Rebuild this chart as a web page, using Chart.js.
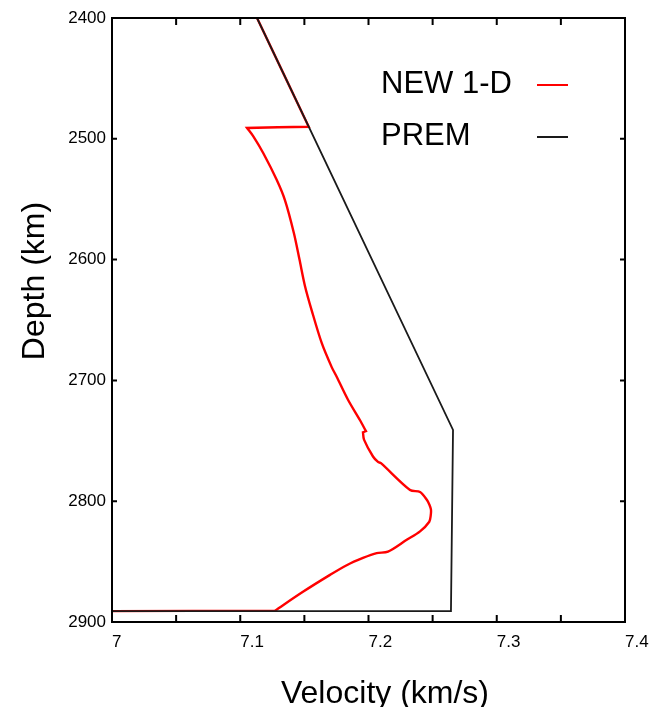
<!DOCTYPE html>
<html lang="en">
<head>
  <meta charset="UTF-8">
  <title>Velocity vs Depth</title>
  <script src="https://cdn.jsdelivr.net/npm/chart.js"></script>
  <style>
    body {
      margin: 0;
      background: #ffffff;
    }
    .chart-box {
      width: 662px;
      height: 707px;
      position: relative;
    }
  </style>
</head>
<body>
  <div class="chart-box">
    <canvas id="velocityChart"></canvas>
  </div>
  <script>
    // NEW 1-D model (velocity in km/s, depth in km)
    // corner points are listed twice so the smoothed line keeps a sharp bend there
    const newVel = [7.1131, 7.1534, 7.1534, 7.1053, 7.1053, 7.1102, 7.118, 7.1284, 7.1349, 7.1418, 7.1462, 7.1505,
      7.1557, 7.1635, 7.1713, 7.1752, 7.184, 7.1934, 7.198, 7.198, 7.1957, 7.1957, 7.1965, 7.2035, 7.2074, 7.2097,
      7.2324, 7.2402, 7.2456, 7.2475, 7.2487, 7.2485, 7.2474, 7.2402, 7.2298, 7.2152, 7.2064, 7.1957,
      7.183, 7.17, 7.1489, 7.1271, 7.1271, 7.0];
    const newDepth = [2400, 2490, 2490, 2491, 2491, 2498, 2512, 2534, 2551, 2578, 2600, 2622,
      2642, 2669, 2689, 2697, 2716, 2733, 2742, 2742, 2743, 2743, 2749, 2763, 2767.5, 2768.5,
      2790.7, 2792.4, 2799, 2803, 2807, 2812, 2817, 2825, 2832, 2841.8, 2843, 2847,
      2853, 2861, 2875, 2890.6, 2890.6, 2891];

    // PREM
    const premVel = [7.1131, 7.2659, 7.2643, 7.0];
    const premDepth = [2400, 2741, 2891, 2891];

    // ticks
    const xTicks = [7, 7.1, 7.2, 7.3, 7.4];
    const xMinorTicks = [7, 7.05, 7.1, 7.15, 7.2, 7.25, 7.3, 7.35, 7.4];
    const yTicks = [2400, 2500, 2600, 2700, 2800, 2900];

    const FONT = "'Liberation Sans', Arial, Helvetica, sans-serif";

    const toPoints = (xs, ys) => xs.map((x, i) => ({ x: x, y: ys[i] }));

    // frame, inward ticks, axis titles and legend
    const framePlugin = {
      id: 'frame',
      afterDraw(chart) {
        const ctx = chart.ctx;
        const a = chart.chartArea;
        const xs = chart.scales.x;
        const ys = chart.scales.y;
        ctx.save();
        ctx.strokeStyle = '#000';
        ctx.lineWidth = 2;
        ctx.strokeRect(a.left, a.top, a.right - a.left, a.bottom - a.top);

        ctx.beginPath();
        xMinorTicks.forEach(v => {
          const px = xs.getPixelForValue(v);
          ctx.moveTo(px, a.bottom); ctx.lineTo(px, a.bottom - 7);
          ctx.moveTo(px, a.top); ctx.lineTo(px, a.top + 7);
        });
        yTicks.forEach(v => {
          const py = ys.getPixelForValue(v);
          ctx.moveTo(a.left, py); ctx.lineTo(a.left + 5, py);
          ctx.moveTo(a.right, py); ctx.lineTo(a.right - 5, py);
        });
        ctx.stroke();

        // axis titles
        ctx.fillStyle = '#000';
        ctx.font = '32px ' + FONT;
        ctx.textAlign = 'center';
        ctx.textBaseline = 'alphabetic';
        ctx.fillText('Velocity (km/s)', 385, 703);
        ctx.save();
        ctx.translate(44, 281);
        ctx.rotate(-Math.PI / 2);
        ctx.fillText('Depth (km)', 0, 0);
        ctx.restore();

        // legend: text first, line sample after
        ctx.font = '31px ' + FONT;
        ctx.textAlign = 'left';
        chart.data.datasets.forEach((ds, i) => {
          const base = 93 + i * 52;
          ctx.fillStyle = '#000';
          ctx.fillText(ds.label, 381, base);
          ctx.beginPath();
          ctx.strokeStyle = ds.borderColor;
          ctx.lineWidth = 2;
          ctx.moveTo(537, base - 8);
          ctx.lineTo(568, base - 8);
          ctx.stroke();
        });
        ctx.restore();
      }
    };

    new Chart(document.getElementById('velocityChart'), {
      type: 'scatter',
      data: {
        datasets: [{
          label: 'NEW 1-D',
          data: toPoints(newVel, newDepth),
          showLine: true,
          borderColor: '#ff0000',
          borderWidth: 2.4,
          pointRadius: 0,
          tension: 0.3,
          order: 1
        }, {
          label: 'PREM',
          data: toPoints(premVel, premDepth),
          showLine: true,
          borderColor: '#1a1a1a',
          borderWidth: 1.8,
          pointRadius: 0,
          tension: 0,
          order: 0
        }]
      },
      options: {
        responsive: true,
        maintainAspectRatio: false,
        animation: false,
        layout: {
          padding: { left: 0, right: 37, top: 18, bottom: 0 }
        },
        plugins: {
          legend: { display: false },
          tooltip: { enabled: false }
        },
        scales: {
          x: {
            type: 'linear',
            min: 7,
            max: 7.4,
            grid: { display: false, drawTicks: false },
            border: { display: false },
            afterBuildTicks: s => { s.ticks = xTicks.map(v => ({ value: v })); },
            afterFit: s => { s.height = 85; },
            ticks: {
              align: 'start',
              padding: 10,
              color: '#000',
              font: { family: FONT, size: 17 },
              callback: v => String(Math.round(v * 10) / 10)
            }
          },
          y: {
            type: 'linear',
            min: 2400,
            max: 2900,
            reverse: true,
            grid: { display: false, drawTicks: false },
            border: { display: false },
            afterBuildTicks: s => { s.ticks = yTicks.map(v => ({ value: v })); },
            afterFit: s => { s.width = 112; },
            ticks: {
              padding: 6,
              color: '#000',
              font: { family: FONT, size: 17 },
              callback: v => String(v)
            }
          }
        }
      },
      plugins: [framePlugin]
    });
  </script>
</body>
</html>
